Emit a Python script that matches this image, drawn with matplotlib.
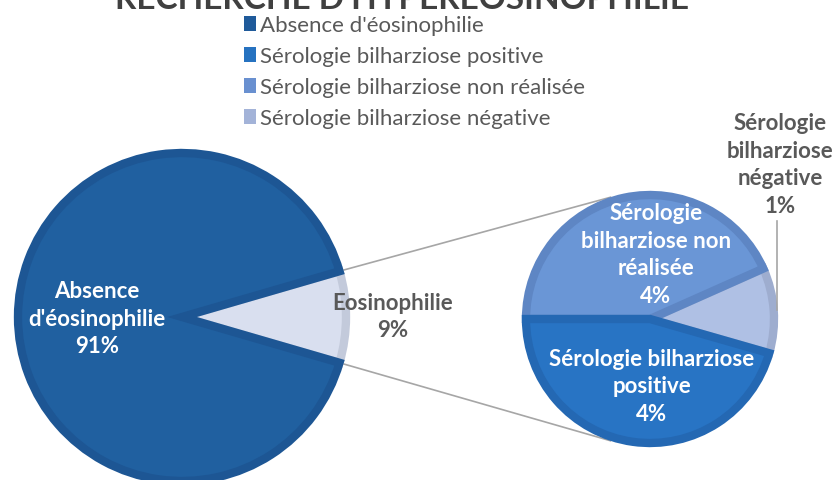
import matplotlib
matplotlib.use("Agg")
import matplotlib.pyplot as plt
from matplotlib.patches import Patch
import numpy as np

plt.rcParams['font.family'] = ['Lato', 'DejaVu Sans']

# main pie
main_labels = ["Absence\nd'éosinophilie", "Eosinophilie"]
main_values = [91, 9]
main_pct = ["91%", "9%"]

# breakdown of eosinophilie
sub_labels = ["Sérologie\nbilharziose\nnégative", "Sérologie\nbilharziose non\nréalisée",
              "Sérologie bilharziose\npositive"]
sub_values = [1.0, 3.9, 4.1]
sub_pct = ["1%", "4%", "4%"]

legend_labels = ["Absence d'éosinophilie", "Sérologie bilharziose positive",
                 "Sérologie bilharziose non réalisée", "Sérologie bilharziose négative"]
legend_colors = ["#1f5a9a", "#2672c0", "#6990d0", "#a3b3d8"]

W, H = 834, 481
fig = plt.figure(figsize=(W / 100, H / 100), dpi=100)
ax = fig.add_axes([0, 0, 1, 1])

gray = "#595959"
lw = 6
pad = 4

# left pie
c1, r1 = (182, H - 318), 168
eos_angle = main_values[1] / sum(main_values) * 360
w1, _ = ax.pie(main_values[::-1], center=c1, radius=r1 - pad, startangle=-eos_angle / 2,
               colors=["#d9dfef", "#2060a0"], counterclock=True,
               wedgeprops=dict(linewidth=lw, joinstyle='miter'))
w1[0].set_edgecolor("#c3cadb")
w1[1].set_edgecolor("#1d5694")

# right pie
c2, r2 = (650, H - 320), 128
neg_angle = sub_values[0] / sum(sub_values) * 360
w2, _ = ax.pie(sub_values, center=c2, radius=r2 - pad, startangle=-16,
               colors=["#afc0e4", "#6a96d6", "#2874c4"], counterclock=True,
               wedgeprops=dict(linewidth=lw, joinstyle='miter'))
for w, ec in zip(w2, ["#9eadcf", "#5e86c4", "#2468b3"]):
    w.set_edgecolor(ec)

# connecting lines
for sgn in (1, -1):
    a = np.deg2rad(sgn * eos_angle / 2)
    b = np.deg2rad(sgn * 108)
    ax.plot([c1[0] + r1 * np.cos(a), c2[0] + r2 * np.cos(b)],
            [c1[1] + r1 * np.sin(a), c2[1] + r2 * np.sin(b)],
            color="#a6a6a6", lw=1.2, zorder=0)

fs = 16
ls = 1.4
ax.text(97, H - 319, main_labels[0] + "\n" + main_pct[0], color="white", fontsize=fs,
        fontweight="bold", ha="center", va="center", linespacing=ls)
ax.text(393, H - 317, main_labels[1] + "\n" + main_pct[1], color=gray, fontsize=fs,
        fontweight="bold", ha="center", va="center", linespacing=ls)
ax.text(656, H - 255, sub_labels[1] + "\n" + sub_pct[1], color="white", fontsize=fs,
        fontweight="bold", ha="center", va="center", linespacing=ls)
ax.text(652, H - 387, sub_labels[2] + "\n" + sub_pct[2], color="white", fontsize=fs,
        fontweight="bold", ha="center", va="center", linespacing=ls)
ax.text(780, H - 165, sub_labels[0] + "\n" + sub_pct[0], color=gray, fontsize=fs,
        fontweight="bold", ha="center", va="center", linespacing=ls)
# leader line for the small slice
mid = np.deg2rad(-16 + neg_angle / 2)
px, py = c2[0] + (r2 - 1) * np.cos(mid), c2[1] + (r2 - 1) * np.sin(mid)
ax.plot([px, px], [py, H - 222], color="#a6a6a6", lw=1.2)

# title (cut off at top, as in the original)
fig.text(0.482, 1 - 9 / H, "RECHERCHE D'HYPERÉOSINOPHILIE", fontsize=24, fontweight="bold",
         color="#404040", ha="center", va="baseline")

handles = [Patch(facecolor=c, edgecolor='none') for c in legend_colors]
fig.legend(handles, legend_labels, loc="upper left", bbox_to_anchor=(224 / W, 1 + 4 / H),
           frameon=False, fontsize=16, handlelength=0.55, handleheight=0.65,
           handletextpad=0.15, labelspacing=0.5, labelcolor=gray)

ax.set_xlim(0, W)
ax.set_ylim(0, H)
ax.set_aspect("equal")
ax.axis("off")

fig.savefig("out.png", dpi=100)
